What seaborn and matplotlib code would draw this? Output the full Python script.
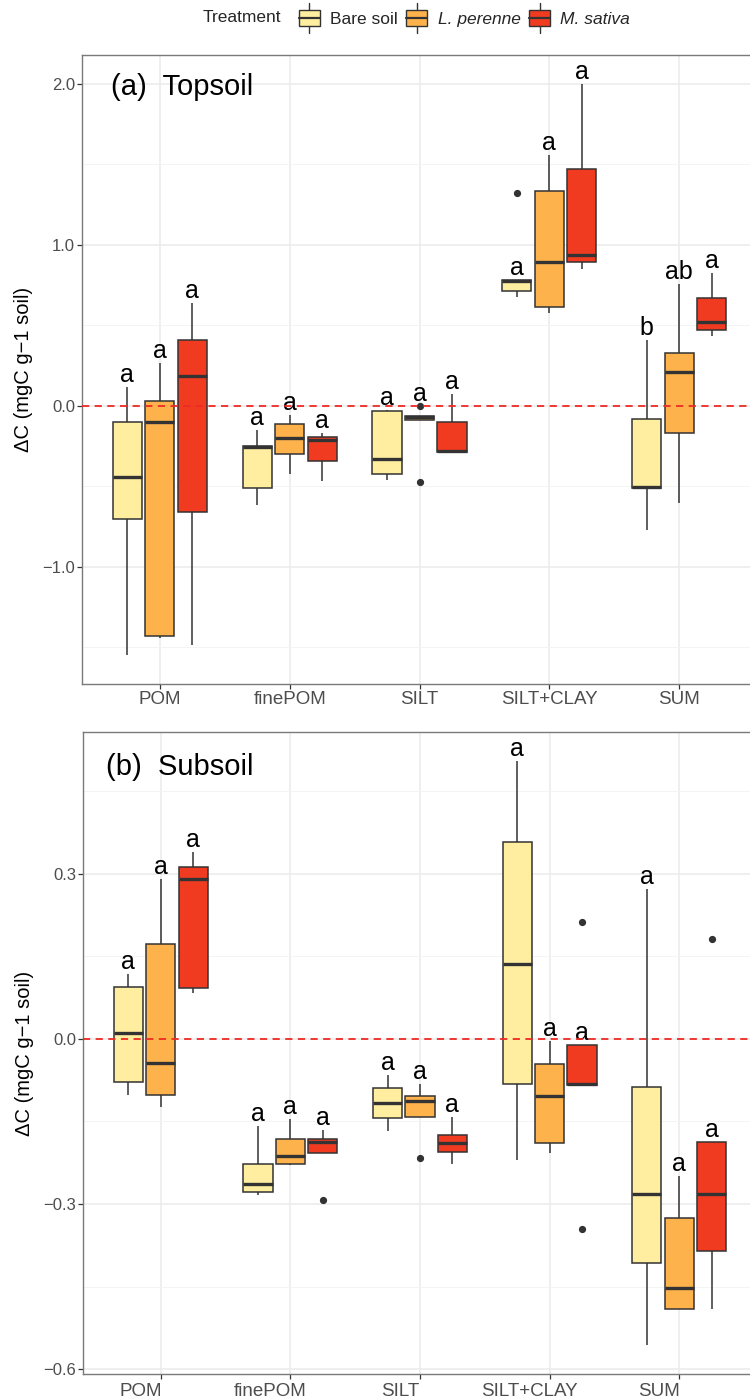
import numpy as np
import pandas as pd
import matplotlib
matplotlib.use("Agg")
import matplotlib.pyplot as plt
import matplotlib.transforms as mtransforms
import seaborn as sns
from matplotlib.legend_handler import HandlerBase
from matplotlib.patches import Rectangle, Patch
from matplotlib.lines import Line2D
from matplotlib.ticker import MultipleLocator, FuncFormatter

# categories / groups
fractions = ["POM", "finePOM", "SILT", "SILT+CLAY", "SUM"]
treatments = ["Bare soil", "L. perenne", "M. sativa"]
colors = ["#FFEDA0", "#FEB24C", "#F03B20"]

# Topsoil, values (one list per fraction)
bare_top = [[-1.55, -0.705, -0.442, -0.101, 0.116],
            [-0.618, -0.51, -0.254, -0.25, -0.149],
            [-0.463, -0.424, -0.329, -0.035, -0.025],
            [0.678, 0.713, 0.772, 0.778, 1.322],
            [-0.769, -0.508, -0.502, -0.083, 0.409]]
perenne_top = [[-1.44, -1.43, -0.101, 0.031, 0.265],
               [-0.424, -0.30, -0.20, -0.112, -0.056],
               [-0.473, -0.09, -0.068, -0.062, 0.0],
               [0.575, 0.616, 0.895, 1.333, 1.556],
               [-0.603, -0.169, 0.209, 0.33, 0.754]]
sativa_top = [[-1.488, -0.657, 0.182, 0.409, 0.637],
              [-0.469, -0.345, -0.213, -0.192, -0.169],
              [-0.287, -0.287, -0.283, -0.103, 0.074],
              [0.847, 0.895, 0.936, 1.469, 2.0],
              [0.43, 0.471, 0.519, 0.671, 0.822]]
letters_top = [["a", "a", "a"], ["a", "a", "a"], ["a", "a", "a"],
               ["a", "a", "a"], ["b", "ab", "a"]]

# Subsoil
bare_sub = [[-0.102, -0.078, 0.010, 0.094, 0.118],
            [-0.284, -0.279, -0.264, -0.228, -0.158],
            [-0.167, -0.143, -0.116, -0.090, -0.065],
            [-0.22, -0.082, 0.136, 0.358, 0.505],
            [-0.556, -0.408, -0.282, -0.087, 0.273]]
perenne_sub = [[-0.124, -0.102, -0.044, 0.172, 0.291],
               [-0.229, -0.228, -0.213, -0.182, -0.146],
               [-0.216, -0.142, -0.113, -0.104, -0.081],
               [-0.207, -0.189, -0.103, -0.046, -0.003],
               [-0.49, -0.49, -0.453, -0.326, -0.25]]
sativa_sub = [[0.084, 0.092, 0.291, 0.313, 0.339],
              [-0.293, -0.207, -0.188, -0.181, -0.165],
              [-0.227, -0.205, -0.190, -0.174, -0.142],
              [-0.345, -0.084, -0.081, -0.011, 0.213],
              [-0.49, -0.385, -0.282, -0.187, 0.181]]
letters_sub = [["a", "a", "a"]] * 5

sns.set_theme(style="white")
plt.rcParams["font.family"] = ["Liberation Sans", "DejaVu Sans"]

DARK = "#333333"


def long_df(bare, perenne, sativa):
    rows = []
    for trt, vals in zip(treatments, [bare, perenne, sativa]):
        for frac, v in zip(fractions, vals):
            for x in v:
                rows.append((frac, trt, x))
    return pd.DataFrame(rows, columns=["fraction", "Treatment", "dC"])


def label_top(v, span):
    # top of the upper whisker, or a close outlier just above it
    v = np.asarray(v)
    q1, q3 = np.percentile(v, [25, 75])
    fence = q3 + 1.5 * (q3 - q1)
    top = v[v <= fence].max()
    out = v[v > fence]
    if len(out) and out.min() - top < 0.05 * span:
        top = out.min()
    return top


class BoxKey(HandlerBase):
    def create_artists(self, legend, orig_handle, xdescent, ydescent,
                       width, height, fontsize, trans):
        x0, y0 = -xdescent, -ydescent
        xm = x0 + width / 2
        rect = Rectangle((x0, y0 + 0.1 * height), width, 0.8 * height,
                         facecolor=orig_handle.get_facecolor(), edgecolor=DARK,
                         lw=1.0, transform=trans)
        med = Line2D([x0, x0 + width], [y0 + 0.5 * height] * 2, color=DARK,
                     lw=1.6, transform=trans)
        w1 = Line2D([xm, xm], [y0 - 0.2 * height, y0 + 0.1 * height],
                    color=DARK, lw=1.0, transform=trans)
        w2 = Line2D([xm, xm], [y0 + 0.9 * height, y0 + 1.2 * height],
                    color=DARK, lw=1.0, transform=trans)
        return [w1, w2, rect, med]


def draw_panel(ax, groups, letters, title, major, minor, title_xy):
    df = long_df(*groups)
    ax.set_axisbelow(True)
    sns.boxplot(data=df, x="fraction", y="dC", hue="Treatment",
                order=fractions, hue_order=treatments, palette=colors,
                saturation=1, width=0.75, gap=0.1, linecolor=DARK,
                linewidth=1.1, showcaps=False, fliersize=4.2,
                flierprops=dict(marker="o", markerfacecolor=DARK,
                                markeredgecolor=DARK),
                medianprops=dict(linewidth=2.4, color=DARK),
                legend=False, ax=ax)
    ax.axhline(0, color="#EE2A24", lw=1.3, ls=(0, (4, 3)), zorder=5)

    lo = df["dC"].min()
    hi = df["dC"].max()
    pad = 0.05 * (hi - lo)
    ax.set_ylim(lo - pad, hi + pad)
    ax.set_xlim(-0.6, 4.6)
    span = hi - lo

    offsets = [-0.25, 0.0, 0.25]
    for i, frac in enumerate(fractions):
        for j, trt in enumerate(treatments):
            v = groups[j][i]
            ax.annotate(letters[i][j], (i + offsets[j], label_top(v, span)),
                        xytext=(0, 3.6), textcoords="offset points",
                        ha="center", va="baseline", fontsize=18, color="black")

    ax.yaxis.set_major_locator(MultipleLocator(major))
    ax.yaxis.set_minor_locator(MultipleLocator(minor))
    ax.yaxis.set_major_formatter(FuncFormatter(
        lambda v, _: f"{round(v, 2) + 0.0:.1f}".replace("-", "\u2212")))
    ax.grid(which="major", color="#EBEBEB", lw=1.1)
    ax.grid(which="minor", axis="y", color="#F3F3F3", lw=0.6)
    ax.tick_params(which="minor", length=0)
    ax.tick_params(axis="both", which="major", direction="out", length=3.5,
                   width=0.9, color=DARK, labelcolor="#4D4D4D", pad=1.5,
                   left=True, bottom=True)
    ax.tick_params(axis="y", labelsize=12)
    ax.tick_params(axis="x", labelsize=13.5)
    for s in ax.spines.values():
        s.set_color("#7A7A7A")
        s.set_linewidth(1.0)
    ax.set_xlabel("")
    ax.set_ylabel("\u0394C (mgC g\u22121 soil)", fontsize=14.5, color="black")
    ax.yaxis.set_label_coords(-0.072, 0.5)
    ax.text(title_xy[0], title_xy[1], title, transform=ax.transAxes,
            fontsize=21, ha="left", va="center", color="black")


fig = plt.figure(figsize=(7.5, 14), dpi=100)
ax1 = fig.add_axes([82 / 750, 1 - 684 / 1400, 675 / 750, 629 / 1400])
ax2 = fig.add_axes([83 / 750, 1 - 1374 / 1400, 674 / 750, 642 / 1400])

draw_panel(ax1, [bare_top, perenne_top, sativa_top], letters_top,
           "(a)  Topsoil", 1.0, 0.5, (0.043, 0.949))
draw_panel(ax2, [bare_sub, perenne_sub, sativa_sub], letters_sub,
           "(b)  Subsoil", 0.3, 0.15, (0.034, 0.9455))

ax2.tick_params(axis="x", pad=3)
# bottom panel category labels sit a little left of their ticks
shift = mtransforms.ScaledTranslation(-0.2, 0, fig.dpi_scale_trans)
for lbl in ax2.get_xticklabels():
    lbl.set_transform(lbl.get_transform() + shift)

# legend across the top
handles = [Patch(facecolor=c) for c in colors]
fig.text(281 / 750, 1 - 18 / 1400, "Treatment", ha="right", va="center",
         fontsize=12.5)
leg = fig.legend(handles, treatments, loc="center left",
                 bbox_to_anchor=(290 / 750, 1 - 18 / 1400), ncol=3,
                 frameon=False, borderpad=0, handlelength=1.2,
                 handleheight=1.5, handletextpad=0.6, columnspacing=0.5,
                 fontsize=12.5, handler_map={Patch: BoxKey()})
for t in leg.get_texts()[1:]:
    t.set_fontstyle("italic")

fig.savefig("out.png", dpi=100)
